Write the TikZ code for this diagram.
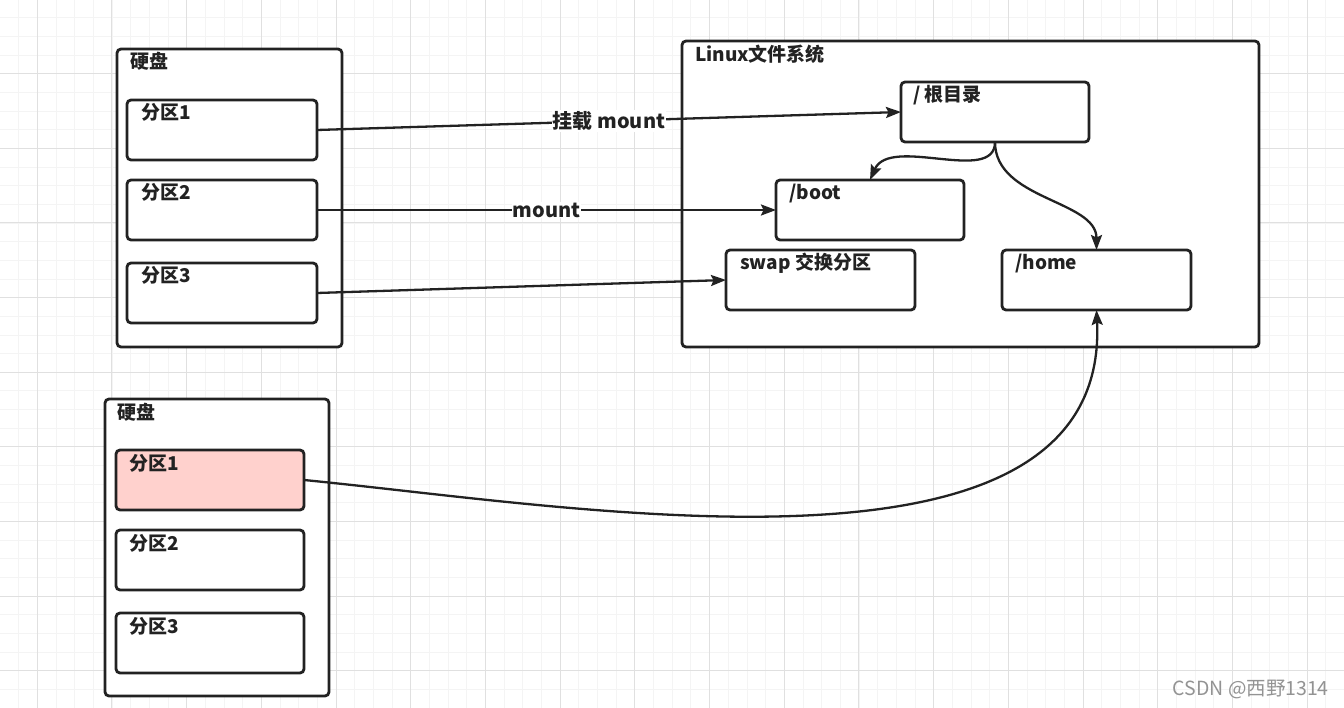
\documentclass[tikz,border=0pt]{standalone}
\usepackage{fontspec}
\setmainfont{Noto Sans CJK SC}
\usetikzlibrary{arrows.meta,calc}
\definecolor{ink}{HTML}{222222}
\definecolor{pinkfill}{HTML}{FFD1CD}
\definecolor{gmaj}{HTML}{E0E0E0}
\definecolor{gmin}{HTML}{F4F4F4}
\begin{document}
\begin{tikzpicture}[x=1pt,y=-1pt,
  box/.style={draw=ink, line width=2.8pt, rounded corners=4pt, fill=white, anchor=north west, inner sep=0pt, outer sep=0pt},
  part/.style={box, minimum width=190pt, minimum height=60pt},
  txt/.style={anchor=base west, inner sep=0pt, font=\fontsize{19}{21}\selectfont\bfseries, text=ink},
  conn/.style={draw=ink, line width=2.3pt, -{Stealth[length=15pt,width=11pt,inset=2.5pt]}},
  lbl/.style={fill=white, inner sep=1pt, font=\fontsize{20}{22}\selectfont\bfseries, text=ink}
]
\useasboundingbox (0,0) rectangle (1344,708);
\fill[white] (0,0) rectangle (1344,708);
% grid
\foreach \i in {-2,...,71} \draw[gmin, line width=0.7pt] ({37.2+18.675*\i},0) -- ({37.2+18.675*\i},708);
\foreach \i in {0,...,38} \draw[gmin, line width=0.7pt] (0,{-0.8+18.65*\i}) -- (1344,{-0.8+18.65*\i});
\foreach \i in {0,...,17} \draw[gmaj, line width=1pt] ({37.2+74.7*\i},0) -- ({37.2+74.7*\i},708);
\foreach \i in {0,...,9} \draw[gmaj, line width=1pt] (0,{-0.8+74.6*\i}) -- (1344,{-0.8+74.6*\i});

% disk 1
\node[box, minimum width=225pt, minimum height=298pt] (d1) at (117,49) {};
\node[txt] (d1t) at ($(d1.north west)+(13,20)$) {硬盘};
\node[part] (a1) at (127,100) {};
\node[txt] (a1t) at ($(a1.north west)+(14,20)$) {分区1};
\node[part] (a2) at (127,180) {};
\node[txt] (a2t) at ($(a2.north west)+(14,20)$) {分区2};
\node[part] (a3) at (127,263) {};
\node[txt] (a3t) at ($(a3.north west)+(14,20)$) {分区3};

% linux fs
\node[box, minimum width=577pt, minimum height=306pt] (fs) at (682,41) {};
\node[txt] (fst) at ($(fs.north west)+(13,21)$) {Linux文件系统};
\node[box, minimum width=188pt, minimum height=60pt] (root) at (901,82) {};
\node[txt] (roott) at ($(root.north west)+(12,20)$) {/ 根目录};
\node[box, minimum width=188pt, minimum height=60pt] (boot) at (776,180) {};
\node[txt] (boott) at ($(boot.north west)+(13,20)$) {/boot};
\node[box, minimum width=189pt, minimum height=60pt] (swap) at (726,250) {};
\node[txt] (swapt) at ($(swap.north west)+(14,20)$) {swap 交换分区};
\node[box, minimum width=189pt, minimum height=60pt] (home) at (1002,250) {};
\node[txt] (homet) at ($(home.north west)+(13,20)$) {/home};

% disk 2
\node[box, minimum width=224pt, minimum height=297pt] (d2) at (105,399) {};
\node[txt] (d2t) at ($(d2.north west)+(12,20)$) {硬盘};
\node[part, minimum width=188pt, fill=pinkfill] (b1) at (116,450) {};
\node[txt] (b1t) at ($(b1.north west)+(13,20)$) {分区1};
\node[part, minimum width=188pt] (b2) at (116,530) {};
\node[txt] (b2t) at ($(b2.north west)+(13,20)$) {分区2};
\node[part, minimum width=188pt] (b3) at (116,613) {};
\node[txt] (b3t) at ($(b3.north west)+(13,20)$) {分区3};

% connectors
\draw[conn] (a1.east) -- node[lbl] (l1) {挂载 mount} (root.west);
\draw[conn] (a2.east) -- node[lbl] (l2) {mount} (boot.west);
\draw[conn] (a3.east) -- (swap.west);
\draw[conn] (root.south) .. controls +(0,43) and +(20,-45) .. (boot.north);
\draw[conn] (root.south) .. controls +(0,58) and +(0,-50) .. (home.north);
\draw[conn] (b1.east) .. controls (580,507) and (1110,600) .. (home.south);

% watermark
\node[anchor=east, inner sep=0pt, text=gray!85, font=\fontsize{19.5}{22}\selectfont] (wm) at (1329,689) {CSDN @西野1314};
\end{tikzpicture}
\end{document}
